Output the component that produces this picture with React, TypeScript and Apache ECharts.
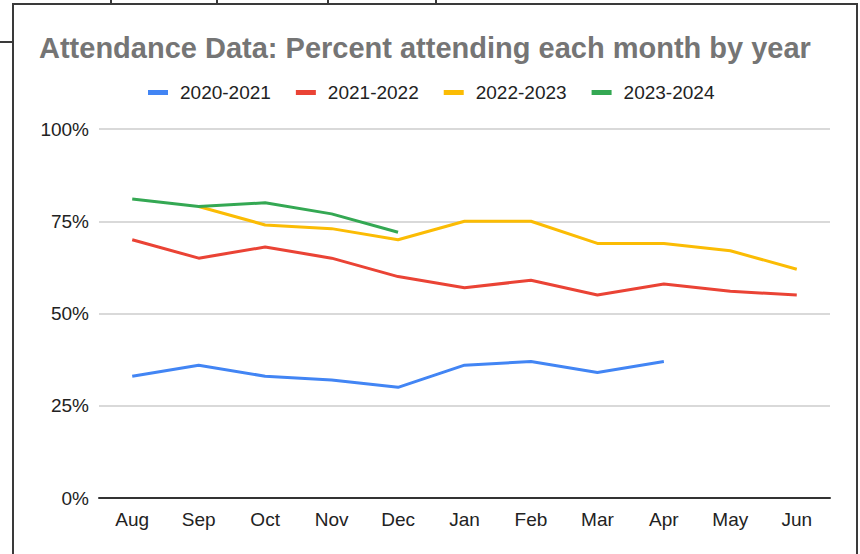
import React, { useEffect, useRef } from "react";
import * as echarts from "echarts";

const months = ["Aug", "Sep", "Oct", "Nov", "Dec", "Jan", "Feb", "Mar", "Apr", "May", "Jun"];
const seriesNames = ["2020-2021", "2021-2022", "2022-2023", "2023-2024"];
const y2020 = [33, 36, 33, 32, 30, 36, 37, 34, 37, null, null];
const y2021 = [70, 65, 68, 65, 60, 57, 59, 55, 58, 56, 55];
const y2022 = [null, 79, 74, 73, 70, 75, 75, 69, 69, 67, 62];
const y2023 = [81, 79, 80, 77, 72, null, null, null, null, null, null];
const colors = ["#4285F4", "#EA4335", "#FBBC04", "#34A853"];
const yTicks = [0, 25, 50, 75, 100];

const FONT = "'Liberation Sans', Arial, sans-serif";

export default function App() {
  const ref = useRef<HTMLDivElement>(null);
  useEffect(() => {
    if (!ref.current) return;
    const chart = echarts.init(ref.current, null, { renderer: "svg" });
    const data = [y2020, y2021, y2022, y2023];
    chart.setOption({
      animation: false,
      backgroundColor: "#ffffff",
      title: {
        text: "Attendance Data: Percent attending each month by year",
        left: 34,
        top: 28,
        textStyle: { fontFamily: FONT, fontSize: 29, fontWeight: "bold", color: "#757575" },
      },
      legend: {
        data: seriesNames,
        top: 78,
        left: 143,
        icon: "rect",
        itemWidth: 20,
        itemHeight: 5,
        itemGap: 25,
        textStyle: { fontFamily: FONT, fontSize: 19, color: "#222222", padding: [0, 0, 0, 7] },
      },
      grid: { left: 99, right: 30, top: 129, bottom: 56, containLabel: false },
      xAxis: {
        type: "category",
        data: months,
        boundaryGap: true,
        axisLine: { show: true, lineStyle: { color: "#333333", width: 2 } },
        axisTick: { show: false },
        axisLabel: { fontFamily: FONT, fontSize: 19, color: "#222222", margin: 12 },
      },
      yAxis: {
        type: "value",
        min: yTicks[0],
        max: yTicks[yTicks.length - 1],
        interval: 25,
        axisLine: { show: false },
        axisTick: { show: false },
        axisLabel: { fontFamily: FONT, fontSize: 19, color: "#222222", margin: 10, formatter: "{value}%" },
        splitLine: { lineStyle: { color: "#cccccc", width: 1.5 } },
      },
      series: seriesNames.map((name, i) => ({
        name,
        type: "line",
        data: data[i],
        showSymbol: false,
        symbol: "none",
        connectNulls: false,
        itemStyle: { color: colors[i] },
        lineStyle: { color: colors[i], width: 3 },
      })),
    });
    return () => chart.dispose();
  }, []);

  const line = (s: React.CSSProperties) => (
    <div style={{ position: "absolute", background: "#3a3a3a", ...s }} />
  );

  return (
    <div style={{ position: "absolute", left: 0, top: 0, width: 860, height: 554, overflow: "hidden", background: "#fff" }}>
      <div ref={ref} style={{ position: "absolute", left: 0, top: 0, width: 860, height: 554 }} />
      {line({ left: 12, top: 3, width: 846, height: 2 })}
      {line({ left: 12, top: 3, width: 2, height: 551 })}
      {line({ left: 856, top: 3, width: 2, height: 551 })}
      {line({ left: 0, top: 41, width: 13, height: 2 })}
      {line({ left: 110, top: 0, width: 2, height: 4 })}
      {line({ left: 216, top: 0, width: 2, height: 4 })}
      {line({ left: 327, top: 0, width: 2, height: 4 })}
      {line({ left: 435, top: 0, width: 2, height: 4 })}
    </div>
  );
}
